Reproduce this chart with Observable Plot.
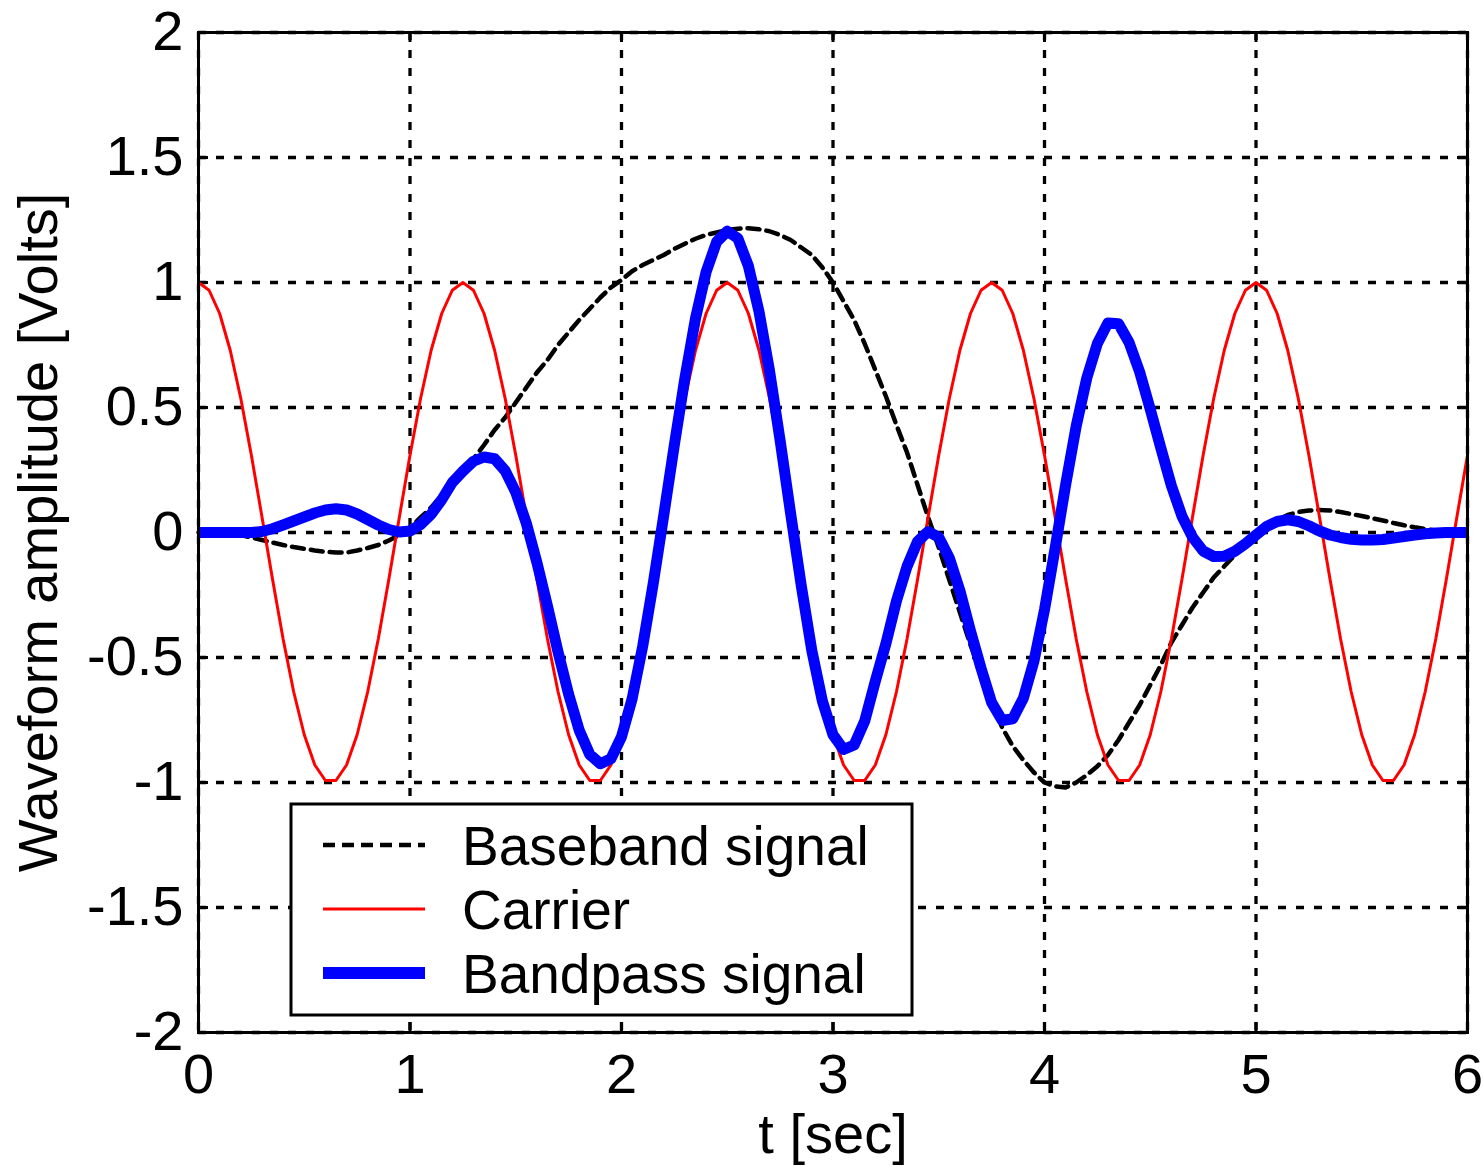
<!DOCTYPE html>
<html>
<head>
<meta charset="utf-8">
<script src="https://cdn.jsdelivr.net/npm/d3@7"></script>
<script src="https://cdn.jsdelivr.net/npm/@observablehq/plot@0.6"></script>
<style>
  html, body { margin: 0; padding: 0; background: #fff; overflow: hidden; }
  #chart svg { display: block; }
</style>
</head>
<body>
<div id="chart"></div>
<script>
// ---- data ----
const time = [
  0,0.05,0.1,0.15,0.2,0.25,0.3,0.35,0.4,0.45,0.5,0.55,0.6,0.65,0.7,0.75,0.8,0.85,0.9,0.95,
  1,1.05,1.1,1.15,1.2,1.25,1.3,1.35,1.4,1.45,1.5,1.55,1.6,1.65,1.7,1.75,1.8,1.85,1.9,1.95,
  2,2.05,2.1,2.15,2.2,2.25,2.3,2.35,2.4,2.45,2.5,2.55,2.6,2.65,2.7,2.75,2.8,2.85,2.9,2.95,
  3,3.05,3.1,3.15,3.2,3.25,3.3,3.35,3.4,3.45,3.5,3.55,3.6,3.65,3.7,3.75,3.8,3.85,3.9,3.95,
  4,4.05,4.1,4.15,4.2,4.25,4.3,4.35,4.4,4.45,4.5,4.55,4.6,4.65,4.7,4.75,4.8,4.85,4.9,4.95,
  5,5.05,5.1,5.15,5.2,5.25,5.3,5.35,5.4,5.45,5.5,5.55,5.6,5.65,5.7,5.75,5.8,5.85,5.9,5.95,
  6
];
const baseband = [
  0,0,0,-0.005,-0.01,-0.02,-0.03,-0.04,-0.05,-0.058,-0.065,-0.072,-0.077,-0.08,-0.08,-0.072,-0.062,-0.05,-0.032,-0.01,
  0.02,0.06,0.10,0.15,0.20,0.245,0.295,0.35,0.41,0.46,0.52,0.58,0.64,0.69,0.75,0.80,0.85,0.895,0.94,0.98,
  1.01,1.045,1.07,1.09,1.11,1.135,1.155,1.175,1.19,1.20,1.21,1.215,1.217,1.213,1.205,1.19,1.17,1.14,1.11,1.06,
  1.00,0.925,0.85,0.755,0.65,0.545,0.43,0.32,0.19,0.06,-0.06,-0.19,-0.32,-0.45,-0.56,-0.68,-0.78,-0.855,-0.91,-0.96,
  -1.00,-1.015,-1.02,-1.00,-0.97,-0.935,-0.89,-0.83,-0.76,-0.69,-0.61,-0.53,-0.44,-0.37,-0.30,-0.24,-0.18,-0.135,-0.09,-0.05,
  -0.01,0.025,0.05,0.07,0.082,0.088,0.09,0.088,0.082,0.074,0.066,0.057,0.048,0.038,0.029,0.021,0.014,0.008,0.004,0.001,
  0
];
const carrier = [
  1,0.969,0.876,0.729,0.536,0.309,0.063,-0.187,-0.426,-0.637,-0.809,-0.93,-0.992,-0.992,-0.93,-0.809,-0.637,-0.426,-0.187,0.063,
  0.309,0.536,0.729,0.876,0.969,1,0.969,0.876,0.729,0.536,0.309,0.063,-0.187,-0.426,-0.637,-0.809,-0.93,-0.992,-0.992,-0.93,
  -0.809,-0.637,-0.426,-0.187,0.063,0.309,0.536,0.729,0.876,0.969,1,0.969,0.876,0.729,0.536,0.309,0.063,-0.187,-0.426,-0.637,
  -0.809,-0.93,-0.992,-0.992,-0.93,-0.809,-0.637,-0.426,-0.187,0.063,0.309,0.536,0.729,0.876,0.969,1,0.969,0.876,0.729,0.536,
  0.309,0.063,-0.187,-0.426,-0.637,-0.809,-0.93,-0.992,-0.992,-0.93,-0.809,-0.637,-0.426,-0.187,0.063,0.309,0.536,0.729,0.876,0.969,
  1,0.969,0.876,0.729,0.536,0.309,0.063,-0.187,-0.426,-0.637,-0.809,-0.93,-0.992,-0.992,-0.93,-0.809,-0.637,-0.426,-0.187,0.063,
  0.309
];
const bandpass = [
  0,0,0,0,0,0,0.004,0.015,0.03,0.046,0.062,0.078,0.09,0.095,0.09,0.074,0.052,0.03,0.012,0.002,
  0.006,0.032,0.073,0.131,0.2,0.245,0.285,0.302,0.295,0.247,0.161,0.037,-0.12,-0.294,-0.478,-0.647,-0.791,-0.888,-0.925,-0.905,
  -0.817,-0.666,-0.456,-0.204,0.07,0.351,0.619,0.857,1.042,1.163,1.205,1.177,1.066,0.884,0.646,0.368,0.074,-0.213,-0.473,-0.675,
  -0.809,-0.868,-0.85,-0.754,-0.595,-0.445,-0.274,-0.136,-0.036,0.004,-0.019,-0.102,-0.233,-0.394,-0.543,-0.68,-0.752,-0.745,-0.663,-0.515,
  -0.309,-0.064,0.191,0.426,0.618,0.756,0.838,0.835,0.76,0.642,0.493,0.338,0.187,0.065,-0.019,-0.074,-0.096,-0.095,-0.075,-0.045,
  -0.01,0.024,0.044,0.051,0.044,0.027,0.006,-0.01,-0.02,-0.027,-0.03,-0.03,-0.028,-0.022,-0.016,-0.01,-0.005,-0.002,0,0,
  0
];
const xTicks = [0, 1, 2, 3, 4, 5, 6];
const xTickLabels = ["0", "1", "2", "3", "4", "5", "6"];
const yTicks = [-2, -1.5, -1, -0.5, 0, 0.5, 1, 1.5, 2];
const yTickLabels = ["-2", "-1.5", "-1", "-0.5", "0", "0.5", "1", "1.5", "2"];
const seriesNames = ["Baseband signal", "Carrier", "Bandpass signal"];
const xLabel = "t [sec]";
const yLabel = "Waveform amplitude [Volts]";

// ---- table built from the arrays ----
const rows = time.map((t, i) => ({t, baseband: baseband[i], carrier: carrier[i], bandpass: bandpass[i]}));

const W = 1483, H = 1166;
const mL = 198, mR = 16, mT = 32, mB = 134;
const plotW = W - mL - mR, plotH = H - mT - mB;
const FONT = "'Liberation Sans', Arial, Helvetica, sans-serif";
const tickLen = 10;

const styles = {
  baseband: {stroke: "#000000", strokeWidth: 4.5, strokeDasharray: "12,7"},
  carrier:  {stroke: "#ff0000", strokeWidth: 3},
  bandpass: {stroke: "#0000ff", strokeWidth: 11}
};

const chart = Plot.plot({
  width: W,
  height: H,
  marginLeft: mL,
  marginRight: mR,
  marginTop: mT,
  marginBottom: mB,
  style: {fontFamily: FONT, fontSize: "56px", background: "#fff", color: "#000"},
  x: {domain: [0, 6]},
  y: {domain: [-2, 2]},
  marks: [
    Plot.gridX(xTicks, {stroke: "#000", strokeOpacity: 1, strokeWidth: 3.3, strokeDasharray: "8,10"}),
    Plot.gridY(yTicks, {stroke: "#000", strokeOpacity: 1, strokeWidth: 3.3, strokeDasharray: "8,10"}),
    Plot.tickX(xTicks, {x: d => d, stroke: "#000", strokeWidth: 3, insetTop: plotH - tickLen}),
    Plot.tickX(xTicks, {x: d => d, stroke: "#000", strokeWidth: 3, insetBottom: plotH - tickLen}),
    Plot.tickY(yTicks, {y: d => d, stroke: "#000", strokeWidth: 3, insetLeft: plotW - tickLen}),
    Plot.tickY(yTicks, {y: d => d, stroke: "#000", strokeWidth: 3, insetRight: plotW - tickLen}),
    Plot.lineY(rows, {x: "t", y: "baseband", ...styles.baseband}),
    Plot.lineY(rows, {x: "t", y: "carrier", ...styles.carrier}),
    Plot.lineY(rows, {x: "t", y: "bandpass", ...styles.bandpass, strokeLinejoin: "round", strokeLinecap: "butt"}),
    Plot.frame({stroke: "#000", strokeWidth: 3}),
    Plot.axisX({ticks: xTicks, tickSize: 0, tickPadding: 21, label: null,
      tickFormat: d => xTickLabels[xTicks.indexOf(d)], fontSize: 56}),
    Plot.axisY({ticks: yTicks, tickSize: 0, tickPadding: 15, label: null,
      tickFormat: d => yTickLabels[yTicks.indexOf(d)], fontSize: 56}),
    Plot.text([xLabel], {text: d => d, frameAnchor: "bottom", dy: 103, fontSize: 56, lineAnchor: "middle", textAnchor: "middle"}),
    Plot.text([yLabel], {text: d => d, frameAnchor: "left", rotate: -90, dx: -159, fontSize: 56, lineAnchor: "middle", textAnchor: "middle"})
  ]
});

// ---- legend (inside the axes, lower left) ----
const svg = d3.select(chart);
const lg = svg.append("g").attr("font-family", FONT).attr("font-size", 55).attr("text-anchor", "start");
const box = {x: 291, y: 804, w: 621, h: 211};
lg.append("rect").attr("x", box.x).attr("y", box.y).attr("width", box.w).attr("height", box.h)
  .attr("fill", "#fff").attr("stroke", "#000").attr("stroke-width", 3);
const keys = ["baseband", "carrier", "bandpass"];
keys.forEach((k, i) => {
  const cy = box.y + 41 + i * 64;
  const s = styles[k];
  lg.append("line").attr("x1", box.x + 32).attr("x2", box.x + 134).attr("y1", cy).attr("y2", cy)
    .attr("stroke", s.stroke).attr("stroke-width", k === "bandpass" ? 12 : s.strokeWidth)
    .attr("stroke-dasharray", s.strokeDasharray || null);
  lg.append("text").attr("x", box.x + 171).attr("y", cy + 20).attr("fill", "#000")
    .attr("text-anchor", "start").text(seriesNames[i]);
});

document.getElementById("chart").appendChild(chart);
</script>
</body>
</html>
